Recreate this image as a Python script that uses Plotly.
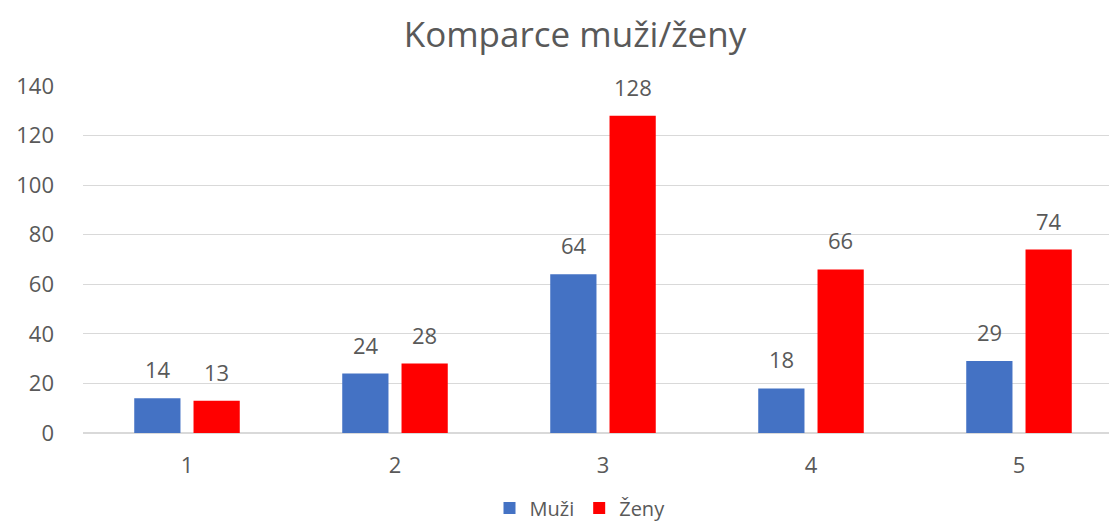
import plotly.graph_objects as go

categories = ["1", "2", "3", "4", "5"]
muzi = [14, 24, 64, 18, 29]
zeny = [13, 28, 128, 66, 74]
series_names = ["Muži", "Ženy"]
colors = ["#4472C4", "#FF0000"]
y_ticks = [0, 20, 40, 60, 80, 100, 120, 140]

FONT = "Open Sans"
GREY = "#595959"

# page has an 8px body margin; size the figure accordingly
W, H = 1115, 517
T, B, L = 78, 92, 75

fig = go.Figure()
for name, vals, col in zip(series_names, [muzi, zeny], colors):
    fig.add_trace(go.Bar(x=categories, y=vals, name=name, marker_color=col,
                         marker_line_width=0))

annotations = []
for vals, shift in [(muzi, -29.5), (zeny, 29.5)]:
    for i, v in enumerate(vals):
        annotations.append(dict(x=i, y=v, text=str(v), showarrow=False,
                                xref="x", yref="y",
                                xshift=shift, yshift=12, yanchor="bottom",
                                font=dict(family=FONT, size=22, color=GREY)))

plot_h = H - T - B
plot_w = W - L
fig.update_layout(
    width=W, height=H,
    margin=dict(l=L, r=0, t=T, b=B, autoexpand=False),
    paper_bgcolor="white", plot_bgcolor="white",
    barmode="group", bargap=0.43, bargroupgap=0.22,
    title=dict(text="Komparce muži/ženy", x=567 / W, xanchor="center",
               y=1 - 27 / H, yanchor="middle", yref="container",
               font=dict(family=FONT, size=35, color=GREY)),
    font=dict(family=FONT, size=22, color=GREY),
    xaxis=dict(type="category", showgrid=False, showline=True,
               linecolor="#D9D9D9", linewidth=1,
               ticks="", ticklabelstandoff=13,
               tickfont=dict(family=FONT, size=22, color=GREY)),
    yaxis=dict(range=[0, 140], tickvals=y_ticks, showgrid=True,
               gridcolor="#D9D9D9", gridwidth=1, zeroline=True,
               zerolinecolor="#D9D9D9", showline=False, ticks="",
               ticklabelstandoff=28,
               tickfont=dict(family=FONT, size=22, color=GREY)),
    legend=dict(orientation="h", x=(572 - L) / plot_w, xanchor="center",
                y=-(500 - (H - B)) / plot_h, yanchor="middle",
                font=dict(family=FONT, size=20, color=GREY),
                itemwidth=30, tracegroupgap=0),
    annotations=annotations,
    showlegend=True,
)

fig.write_html("out.html")
